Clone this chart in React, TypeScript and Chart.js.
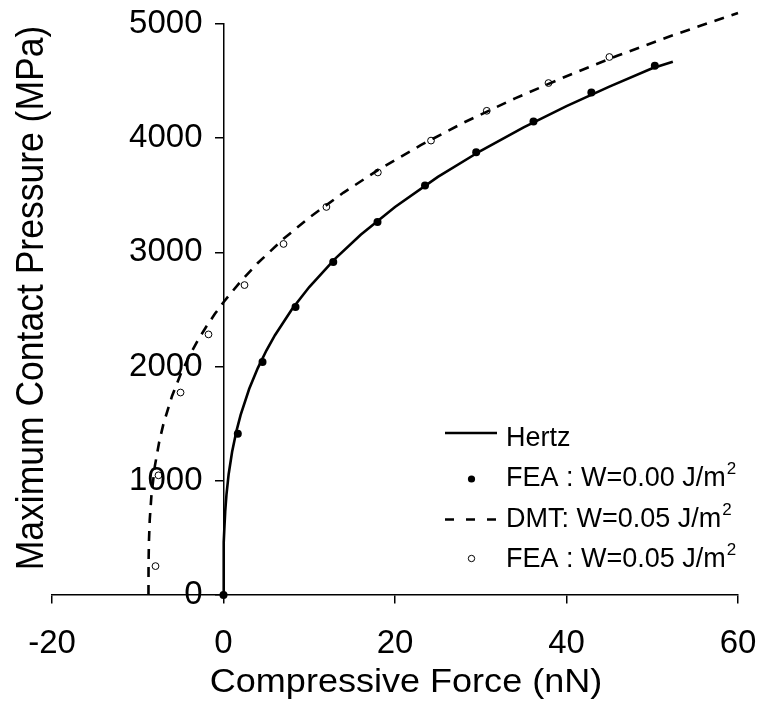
import { useEffect, useRef } from 'react';
import { Chart, registerables } from 'chart.js';

Chart.register(...registerables);

const FONT = '"Liberation Sans", Arial, sans-serif';

const X_TITLE = 'Compressive Force (nN)';
const Y_TITLE = 'Maximum Contact Pressure (MPa)';
const X_TICKS = [-20, 0, 20, 40, 60];
const Y_TICKS = [0, 1000, 2000, 3000, 4000, 5000];

// Hertz theory curve (solid)
const hertzF = [0, 0.005, 0.02, 0.05, 0.1, 0.2, 0.35, 0.6, 1, 1.5, 2, 3, 4, 5, 6, 8, 10, 13, 16, 20, 25, 30, 35, 40, 45, 50, 52.4];
const hertzP = [0, 214, 341, 461, 583, 732, 882, 1058, 1252, 1433, 1577, 1806, 1987, 2141, 2275, 2504, 2697, 2943, 3155, 3398, 3661, 3890, 4095, 4281, 4452, 4612, 4670];

// DMT theory curve, W = 0.05 J/m2 (dashed)
const dmtF = [-8.75, -8.74, -8.7, -8.6, -8.4, -8.0, -7.5, -7, -6, -5, -4, -3, -2, -1, 0, 2, 4, 7, 10, 14, 18, 23, 28, 34, 40, 46, 52, 60];
const dmtP = [0, 268, 458, 661, 877, 1131, 1340, 1499, 1743, 1933, 2091, 2229, 2351, 2462, 2564, 2746, 2907, 3119, 3305, 3524, 3720, 3939, 4136, 4349, 4543, 4724, 4891, 5097];

// FEA, W = 0.00 J/m2 (filled dots)
const fea0F = [0, 1.67, 4.55, 8.4, 12.8, 17.96, 23.5, 29.47, 36.15, 42.9, 50.3];
const fea0P = [0, 1413, 2041, 2521, 2916, 3266, 3585, 3877, 4146, 4400, 4634];

// FEA, W = 0.05 J/m2 (open circles)
const fea05F = [-7.93, -7.58, -5.01, -1.75, 2.45, 7.0, 12.0, 18.0, 24.2, 30.7, 37.9, 45.0];
const fea05P = [253, 1048, 1773, 2282, 2714, 3074, 3398, 3700, 3979, 4240, 4483, 4711];

const LEGEND_TEXT = ['Hertz', 'FEA : W=0.00 J/m', 'DMT: W=0.05 J/m', 'FEA : W=0.05 J/m'];
const LEGEND_SUP = ['', '2', '2', '2'];

const pts = (xs: number[], ys: number[]) => xs.map((x, i) => ({ x, y: ys[i] }));

const zeroPad = (s: any) => {
  s.paddingLeft = 0;
  s.paddingRight = 0;
  s.paddingTop = 0;
  s.paddingBottom = 0;
};

const overlayPlugin = {
  id: 'overlay',
  beforeDraw(chart: any) {
    // y tick labels of an axis placed at x=0 get no tick/padding offset; add it
    const ys = chart.scales.y;
    const items = ys.getLabelItems(chart.chartArea);
    const shift = ys.options.grid.tickLength + ys.options.ticks.padding;
    for (const it of items) {
      if (!it._shifted) {
        it.options.translation[0] -= shift;
        it._shifted = true;
      }
    }
  },
  afterDraw(chart: any) {
    const ctx = chart.ctx as CanvasRenderingContext2D;
    ctx.save();
    ctx.fillStyle = '#000';
    ctx.strokeStyle = '#000';

    // X title
    ctx.save();
    ctx.font = `34px ${FONT}`;
    ctx.textAlign = 'center';
    ctx.textBaseline = 'alphabetic';
    ctx.translate(406, 692);
    ctx.scale(1.06, 1);
    ctx.fillText(X_TITLE, 0, 0);
    ctx.restore();

    // Y title
    ctx.save();
    ctx.font = `35.5px ${FONT}`;
    ctx.textAlign = 'center';
    ctx.textBaseline = 'alphabetic';
    ctx.translate(43, 298);
    ctx.scale(1.1, 1);
    ctx.rotate(-Math.PI / 2);
    ctx.fillText(Y_TITLE, 0, 0);
    ctx.restore();

    // Legend
    const textX = 506;
    const baselines = [446, 485.5, 526.5, 566.5];
    const symX = 471.5;
    const fs = 27;
    for (let i = 0; i < LEGEND_TEXT.length; i++) {
      const by = baselines[i];
      ctx.font = `${fs}px ${FONT}`;
      ctx.textAlign = 'left';
      ctx.textBaseline = 'alphabetic';
      ctx.fillText(LEGEND_TEXT[i], textX, by);
      if (LEGEND_SUP[i]) {
        const w = ctx.measureText(LEGEND_TEXT[i]).width;
        ctx.font = `${Math.round(fs * 0.62)}px ${FONT}`;
        ctx.fillText(LEGEND_SUP[i], textX + w + 1, by - fs * 0.42);
      }
    }
    // symbols
    ctx.lineWidth = 2.5;
    ctx.setLineDash([]);
    ctx.beginPath();
    ctx.moveTo(445, 433);
    ctx.lineTo(497, 433);
    ctx.stroke();

    ctx.beginPath();
    ctx.arc(symX, 479, 3.6, 0, Math.PI * 2);
    ctx.fill();

    ctx.setLineDash([9, 12]);
    ctx.beginPath();
    ctx.moveTo(445, 519.5);
    ctx.lineTo(498, 519.5);
    ctx.stroke();
    ctx.setLineDash([]);

    ctx.lineWidth = 1;
    ctx.beginPath();
    ctx.arc(symX, 558.5, 3.2, 0, Math.PI * 2);
    ctx.stroke();

    ctx.restore();
  },
};

export default function App() {
  const ref = useRef<HTMLCanvasElement | null>(null);

  useEffect(() => {
    if (!ref.current) return;
    const chart = new Chart(ref.current, {
      type: 'scatter',
      data: {
        datasets: [
          {
            label: 'FEA : W=0.00 J/m2',
            data: pts(fea0F, fea0P),
            showLine: false,
            pointRadius: 4,
            pointBackgroundColor: '#000',
            pointBorderColor: '#000',
            pointBorderWidth: 0,
            clip: false,
          },
          {
            label: 'FEA : W=0.05 J/m2',
            data: pts(fea05F, fea05P),
            showLine: false,
            pointRadius: 3.4,
            pointBackgroundColor: 'rgba(0,0,0,0)',
            pointBorderColor: '#000',
            pointBorderWidth: 1,
            clip: false,
          },
          {
            label: 'Hertz',
            data: pts(hertzF, hertzP),
            showLine: true,
            pointRadius: 0,
            borderColor: '#000',
            borderWidth: 2.6,
            tension: 0,
            clip: false,
          },
          {
            label: 'DMT: W=0.05 J/m2',
            data: pts(dmtF, dmtP),
            showLine: true,
            pointRadius: 0,
            borderColor: '#000',
            borderWidth: 2.6,
            borderDash: [10, 8],
            tension: 0,
            clip: false,
          },
        ],
      },
      options: {
        responsive: false,
        animation: false,
        devicePixelRatio: 1,
        layout: { padding: { left: 52, right: 24, top: 24, bottom: 114 } },
        plugins: {
          legend: { display: false },
          tooltip: { enabled: false },
          title: { display: false },
        },
        scales: {
          x: {
            type: 'linear',
            position: { y: 0 } as any,
            min: -20,
            max: 60,
            afterBuildTicks: (s: any) => {
              s.ticks = X_TICKS.map((v) => ({ value: v }));
            },
            afterFit: zeroPad,
            grid: { drawOnChartArea: false, drawTicks: true, color: '#000', lineWidth: 1.5, tickLength: 8 },
            border: { display: true, color: '#000', width: 1.5 },
            ticks: {
              color: '#000',
              font: { family: FONT, size: 33 },
              padding: 21,
              maxRotation: 0,
              autoSkip: false,
              callback: (v: any) => String(v),
            },
          },
          y: {
            type: 'linear',
            position: { x: 0 } as any,
            min: 0,
            max: 5000,
            afterBuildTicks: (s: any) => {
              s.ticks = Y_TICKS.map((v) => ({ value: v }));
            },
            afterFit: zeroPad,
            grid: { drawOnChartArea: false, drawTicks: true, color: '#000', lineWidth: 1.5, tickLength: 8 },
            border: { display: true, color: '#000', width: 1.5 },
            ticks: {
              color: '#000',
              font: { family: FONT, size: 33 },
              padding: 13,
              autoSkip: false,
              callback: (v: any) => String(v),
            },
          },
        },
      },
      plugins: [overlayPlugin],
    });
    return () => chart.destroy();
  }, []);

  return (
    <div style={{ position: 'fixed', left: 0, top: 0, width: 762, height: 709, background: '#fff' }}>
      <canvas ref={ref} width={762} height={709} style={{ display: 'block' }} />
    </div>
  );
}
